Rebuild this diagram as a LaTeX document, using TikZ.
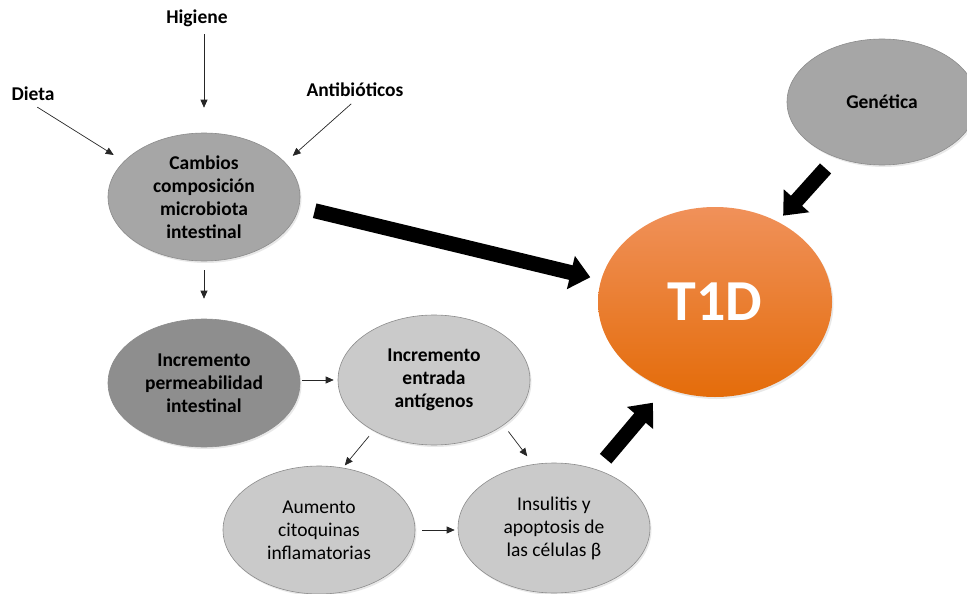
\documentclass[tikz,border=0pt]{standalone}
\usepackage{fontspec}
\setmainfont{Carlito}
\usepackage{tikz}
\usepackage{xcolor}
\usetikzlibrary{arrows.meta,positioning,shapes.geometric,shadows}
\definecolor{midgray}{HTML}{A6A6A6}
\definecolor{deepgray}{HTML}{8E8E8E}
\definecolor{palegray}{HTML}{CACACA}
\definecolor{rimgray}{HTML}{8C8C8C}
\definecolor{orangetop}{HTML}{F0915A}
\definecolor{orangebot}{HTML}{E46C0A}
\tikzset{
  blob/.style={ellipse,draw=rimgray,line width=0.6pt,
               minimum width=192pt,minimum height=128pt,inner sep=0pt,
               align=center,font=\fontsize{19.5}{23}\selectfont\bfseries,
               drop shadow={opacity=0.18,shadow xshift=1.5pt,shadow yshift=-2pt}},
  softblob/.style={blob,fill=palegray,
                   font=\fontsize{19.5}{23}\selectfont},
  tidblob/.style={ellipse,draw=none,minimum width=234pt,minimum height=190pt,
                  inner sep=0pt,top color=orangetop,bottom color=orangebot,
                  text=white,font=\fontsize{58}{60}\selectfont\bfseries,
                  drop shadow={opacity=0.18,shadow xshift=1.5pt,shadow yshift=-2pt}},
  factor/.style={font=\fontsize{19.5}{23}\selectfont\bfseries},
  thinarr/.style={-{Triangle[length=8pt,width=7pt]},line width=0.7pt,
                  draw=black!85},
  bigarr/.style={-{Triangle[length=20pt,width=33pt]},line width=15pt,
                 draw=black}
}
\begin{document}
\begin{tikzpicture}[x=1pt,y=-1pt]
    \path[use as bounding box] (0,0) rectangle (967,594);
    \node[blob,fill=midgray] (cambios) at (204,197)
      {Cambios\\composición\\microbiota\\intestinal};
    \node[blob,fill=deepgray] (permeab) at (204,383)
      {Incremento\\permeabilidad\\intestinal};
    \node[blob,fill=palegray,minimum height=130pt] (entrada) at (434,380)
      {Incremento\\entrada\\antígenos};
    \node[softblob] (citoq) at (319,530)
      {Aumento\\citoquinas\\inflamatorias};
    \node[softblob,minimum height=130pt] (insul) at (554,528)
      {Insulitis y\\apoptosis de\\las células β};
    \node[blob,fill=midgray,minimum width=190pt,minimum height=126pt]
      (genetica) at (882,102) {Genética};
    \node[tidblob] (tid) at (715,302) {T1D};

    \node[factor] (higiene) at (197,18) {Higiene};
    \node[factor] (dieta) at (33,94) {Dieta};
    \node[factor] (antibio) at (355,90) {Antibióticos};

    \draw[thinarr,shorten <=4pt,shorten >=25pt]
      (cambios.north |- higiene.south) -- (cambios.north);
    \draw[thinarr,shorten <=5pt,shorten >=12pt] (dieta.south) -- (cambios.156);
    \draw[thinarr,shorten <=5pt,shorten >=10pt] (antibio.south) -- (cambios.23);
    \draw[thinarr,shorten <=9pt,shorten >=20pt] (cambios) -- (permeab);
    \draw[thinarr,shorten <=2pt,shorten >=4pt]
      (entrada.west -| permeab.east) -- (entrada.west);
    \draw[thinarr,shorten <=7pt,shorten >=3pt] (entrada.-140) -- (citoq.69);
    \draw[thinarr,shorten <=8pt,shorten >=10pt] (entrada.-33) -- (insul.108);
    \draw[thinarr,shorten <=7pt,shorten >=3pt]
      (citoq.east) -- (citoq.east -| insul.west);

    \draw[bigarr,shorten <=16pt,shorten >=11pt] (cambios.-6) -- (tid.169);
    \draw[bigarr,shorten <=15pt,shorten >=8pt] (genetica.230) -- (tid.52);
    \draw[bigarr,shorten <=14pt,shorten >=19pt] (insul.54) -- (tid.240);
  \end{tikzpicture}
\end{document}
